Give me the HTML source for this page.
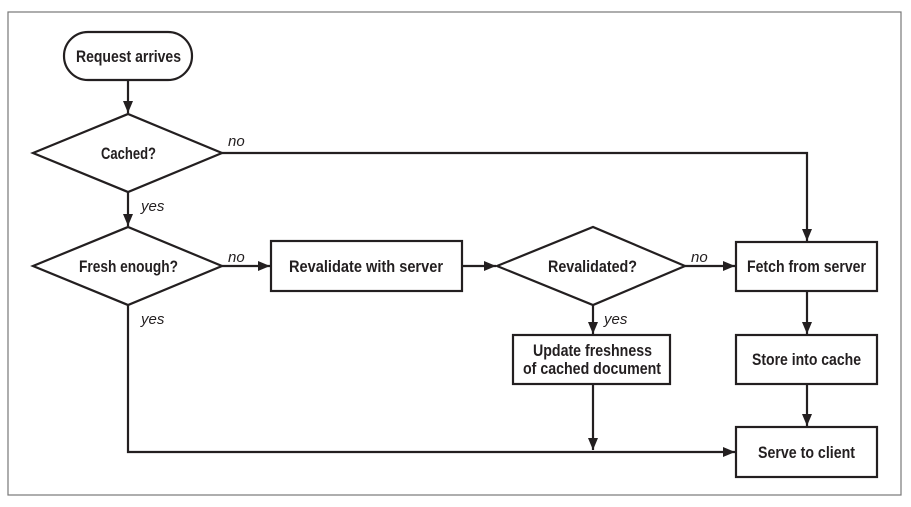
<!DOCTYPE html>
<html><head><style>html,body{margin:0;padding:0;background:#fff}</style></head><body>
<svg width="911" height="502" viewBox="0 0 911 502" xmlns="http://www.w3.org/2000/svg">
<defs><marker id="a" markerWidth="12" markerHeight="10" refX="12" refY="5" orient="auto" markerUnits="userSpaceOnUse"><path d="M0,0 L12,5 L0,10 z" fill="#231f20"/></marker></defs>
<rect x="8" y="12" width="893" height="483" fill="#fff" stroke="#777" stroke-width="1.2"/>
<g fill="none" stroke="#231f20" stroke-width="2.2">
<rect x="64" y="32" width="128" height="48" rx="24"/>
<polygon points="33,153 128,114 222,153 128,192"/>
<polygon points="33,266 128,227 222,266 128,305"/>
<polygon points="497,266 593,227 685,266 593,305"/>
<rect x="271" y="241" width="191" height="50"/>
<rect x="736" y="242" width="141" height="49"/>
<rect x="736" y="335" width="141" height="49"/>
<rect x="736" y="427" width="141" height="50"/>
<rect x="513" y="335" width="157" height="49"/>
<line x1="128" y1="80" x2="128" y2="113" marker-end="url(#a)"/>
<line x1="128" y1="192" x2="128" y2="226" marker-end="url(#a)"/>
<polyline points="222,153 807,153 807,241" marker-end="url(#a)"/>
<line x1="222" y1="266" x2="270" y2="266" marker-end="url(#a)"/>
<line x1="462" y1="266" x2="496" y2="266" marker-end="url(#a)"/>
<line x1="685" y1="266" x2="735" y2="266" marker-end="url(#a)"/>
<line x1="593" y1="305" x2="593" y2="334" marker-end="url(#a)"/>
<line x1="807" y1="291" x2="807" y2="334" marker-end="url(#a)"/>
<line x1="807" y1="384" x2="807" y2="426" marker-end="url(#a)"/>
<line x1="593" y1="384" x2="593" y2="450" marker-end="url(#a)"/>
<polyline points="128,305 128,452 735,452" marker-end="url(#a)"/>
</g>
<g font-family="'Liberation Sans Narrow','Liberation Sans',sans-serif" font-weight="bold" font-size="17" fill="#231f20" lengthAdjust="spacingAndGlyphs">
<text x="76" y="62" textLength="105" lengthAdjust="spacingAndGlyphs">Request arrives</text>
<text x="101" y="159" textLength="55" lengthAdjust="spacingAndGlyphs">Cached?</text>
<text x="79" y="272" textLength="99" lengthAdjust="spacingAndGlyphs">Fresh enough?</text>
<text x="289" y="272" textLength="154" lengthAdjust="spacingAndGlyphs">Revalidate with server</text>
<text x="548" y="272" textLength="89" lengthAdjust="spacingAndGlyphs">Revalidated?</text>
<text x="747" y="272" textLength="119" lengthAdjust="spacingAndGlyphs">Fetch from server</text>
<text x="533" y="356" textLength="119" lengthAdjust="spacingAndGlyphs">Update freshness</text>
<text x="523" y="374" textLength="138" lengthAdjust="spacingAndGlyphs">of cached document</text>
<text x="752" y="365" textLength="109" lengthAdjust="spacingAndGlyphs">Store into cache</text>
<text x="758" y="458" textLength="97" lengthAdjust="spacingAndGlyphs">Serve to client</text>
</g>
<g font-family="'Liberation Sans Narrow','Liberation Sans',sans-serif" font-style="italic" font-size="15" fill="#231f20">
<text x="228" y="146">no</text>
<text x="141" y="211">yes</text>
<text x="228" y="262">no</text>
<text x="141" y="324">yes</text>
<text x="691" y="262">no</text>
<text x="604" y="324">yes</text>
</g>
</svg>
</body></html>
